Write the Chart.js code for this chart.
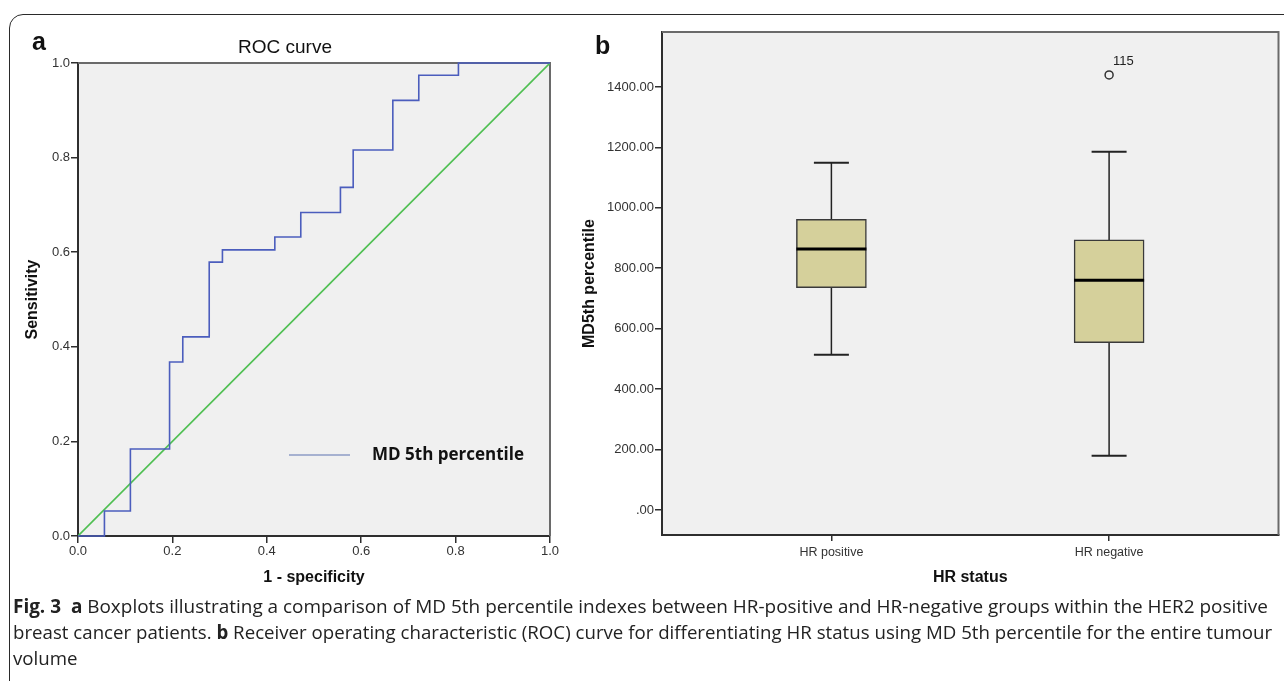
<!DOCTYPE html>
<html>
<head>
<meta charset="utf-8">
<script src="https://cdn.jsdelivr.net/npm/chart.js@4.4.1/dist/chart.umd.min.js"></script>
<style>
  html, body { margin: 0; padding: 0; background: #fff; }
  body { width: 1284px; height: 681px; position: relative; overflow: hidden; font-family: "Liberation Sans", Arial, sans-serif; }
  #frame { position: absolute; left: 9px; top: 14px; width: 1320px; height: 720px; border: 1.5px solid #2a2a2a; border-top-left-radius: 14px; }
  canvas { position: absolute; top: 0; }
  #rocChart { left: 0; }
  #boxChart { left: 570px; }
  .panel { position: absolute; font-weight: bold; font-size: 25px; color: #111; line-height: 1; }
  #caption { position: absolute; left: 13px; top: 593px; font-family: "Open Sans", "Noto Sans", sans-serif; font-size: 19px; color: #222; }
  .cap { width: max-content; white-space: nowrap; line-height: 26px; transform-origin: left center; }
</style>
</head>
<body>
<div id="frame"></div>
<canvas id="rocChart" width="570" height="600"></canvas>
<canvas id="boxChart" width="714" height="600"></canvas>
<div class="panel" style="left:32px; top:29px;">a</div>
<div class="panel" style="left:595px; top:33px;">b</div>
<div id="caption">
  <div class="cap" data-w="1255"><b>Fig. 3</b>&nbsp; <b>a</b> Boxplots illustrating a comparison of MD 5th percentile indexes between HR-positive and HR-negative groups within the HER2 positive</div>
  <div class="cap" data-w="1259">breast cancer patients. <b>b</b> Receiver operating characteristic (ROC) curve for differentiating HR status using MD 5th percentile for the entire tumour</div>
  <div class="cap">volume</div>
</div>
<script>
// ROC curve (panel a), corners of the step curve
const fpr = [0, 0.056, 0.111, 0.194, 0.222, 0.278, 0.306, 0.417, 0.472, 0.556, 0.583, 0.667, 0.722, 0.806, 1.0];
const tpr = [0, 0.053, 0.184, 0.368, 0.421, 0.579, 0.605, 0.632, 0.684, 0.737, 0.816, 0.921, 0.974, 1.0, 1.0];
const refLine = [0, 1];
const rocTicks = [0, 0.2, 0.4, 0.6, 0.8, 1.0];

// Boxplot (panel b)
const groups = ['HR positive', 'HR negative'];
const whiskerLow = [514, 179];
const q1 = [736, 554];
const median = [864, 760];
const q3 = [962, 894];
const whiskerHigh = [1149, 1186];
const outlierValues = [null, 1440];
const outlierIds = [null, '115'];
const mdTicks = [0, 200, 400, 600, 800, 1000, 1200, 1400];

const PLOT_BG = '#f0f0f0';
const AXIS = '#2e2e2e';
const TICK_FONT = { family: 'Liberation Sans', size: 13 };

const plotBg = {
  id: 'plotBg',
  beforeDraw(chart) {
    const { ctx, chartArea: a } = chart;
    ctx.save();
    ctx.fillStyle = PLOT_BG;
    ctx.fillRect(a.left, a.top, a.right - a.left, a.bottom - a.top);
    ctx.restore();
  },
  beforeDatasetsDraw(chart) {
    const { ctx, chartArea: a } = chart;
    ctx.save();
    ctx.strokeStyle = '#6a6a6a';
    ctx.lineWidth = 2;
    ctx.beginPath();
    ctx.moveTo(a.left, a.top);
    ctx.lineTo(a.right, a.top);
    ctx.lineTo(a.right, a.bottom);
    ctx.stroke();
    ctx.restore();
  }
};

// legend sits inside the plot area in the original
const rocLegend = {
  id: 'rocLegend',
  afterDraw(chart) {
    const { ctx, chartArea: a } = chart;
    const y = a.top + 392;
    ctx.save();
    ctx.strokeStyle = '#8e9dc6';
    ctx.lineWidth = 1.5;
    ctx.beginPath();
    ctx.moveTo(a.left + 211, y);
    ctx.lineTo(a.left + 272, y);
    ctx.stroke();
    ctx.fillStyle = '#111';
    ctx.font = 'bold 17px "Open Sans"';
    ctx.textBaseline = 'middle';
    ctx.fillText(chart.data.datasets[0].label, a.left + 294, y);
    ctx.restore();
  }
};

new Chart(document.getElementById('rocChart'), {
  type: 'scatter',
  data: {
    datasets: [{
      label: 'MD 5th percentile',
      data: fpr.map((x, i) => ({ x: x, y: tpr[i] })),
      showLine: true,
      stepped: 'before',
      borderColor: '#4b5dbd',
      borderWidth: 1.6,
      pointRadius: 0,
      clip: 2
    }, {
      label: 'Reference',
      data: refLine.map(v => ({ x: v, y: v })),
      showLine: true,
      borderColor: '#4fbf52',
      borderWidth: 1.6,
      pointRadius: 0
    }]
  },
  options: {
    responsive: false,
    animation: false,
    devicePixelRatio: 1,
    layout: { padding: { left: 20, right: 20, top: 36.6, bottom: 0 } },
    plugins: {
      legend: { display: false },
      tooltip: { enabled: false },
      title: {
        display: true,
        text: 'ROC curve',
        color: '#111',
        font: { family: 'Liberation Sans', size: 19, weight: 'normal' },
        padding: { top: 0, bottom: 3.6 }
      }
    },
    scales: {
      x: {
        type: 'linear', min: 0, max: 1,
        afterFit(scale) { scale.height = 64; },
        afterBuildTicks(scale) { scale.ticks = rocTicks.map(v => ({ value: v })); },
        ticks: { color: '#333', font: TICK_FONT, padding: 1, maxRotation: 0, callback: v => v.toFixed(1) },
        grid: { drawOnChartArea: false, drawTicks: true, tickLength: 7, color: AXIS, lineWidth: 1.5 },
        border: { color: AXIS, width: 2 },
        title: { display: true, text: '1 - specificity', color: '#111', font: { family: 'Liberation Sans', size: 16, weight: 'bold' }, padding: { top: 0, bottom: 13 } }
      },
      y: {
        type: 'linear', min: 0, max: 1,
        afterFit(scale) { scale.width = 58; },
        afterBuildTicks(scale) { scale.ticks = rocTicks.map(v => ({ value: v })); },
        ticks: { color: '#333', font: TICK_FONT, padding: 1, callback: v => v.toFixed(1) },
        grid: { drawOnChartArea: false, drawTicks: true, tickLength: 7, color: AXIS, lineWidth: 1.5 },
        border: { color: AXIS, width: 2 },
        title: { display: true, text: 'Sensitivity', color: '#111', font: { family: 'Liberation Sans', size: 16, weight: 'bold' }, padding: { top: 3, bottom: 0 } }
      }
    }
  },
  plugins: [plotBg, rocLegend]
});

// whiskers, caps, medians and the outlier case number
const boxParts = {
  id: 'boxParts',
  beforeDatasetsDraw(chart) {
    const { ctx, scales: { x, y } } = chart;
    ctx.save();
    ctx.strokeStyle = '#222';
    groups.forEach((g, i) => {
      const px = x.getPixelForValue(i + 1);
      const lo = y.getPixelForValue(whiskerLow[i]);
      const hi = y.getPixelForValue(whiskerHigh[i]);
      ctx.lineWidth = 1.5;
      ctx.beginPath();
      ctx.moveTo(px, lo); ctx.lineTo(px, hi);
      ctx.stroke();
      ctx.lineWidth = 2;
      ctx.beginPath();
      ctx.moveTo(px - 17.5, lo); ctx.lineTo(px + 17.5, lo);
      ctx.moveTo(px - 17.5, hi); ctx.lineTo(px + 17.5, hi);
      ctx.stroke();
    });
    ctx.restore();
  },
  afterDatasetsDraw(chart) {
    const { ctx, scales: { x, y } } = chart;
    ctx.save();
    ctx.strokeStyle = '#000';
    ctx.lineWidth = 3;
    groups.forEach((g, i) => {
      const px = x.getPixelForValue(i + 1);
      const py = y.getPixelForValue(median[i]);
      ctx.beginPath();
      ctx.moveTo(px - 35, py); ctx.lineTo(px + 35, py);
      ctx.stroke();
      if (outlierValues[i] != null) {
        ctx.fillStyle = '#222';
        ctx.font = '13px "Liberation Sans"';
        ctx.textBaseline = 'middle';
        ctx.fillText(outlierIds[i], px + 4, y.getPixelForValue(outlierValues[i]) - 13);
      }
    });
    ctx.restore();
  }
};

new Chart(document.getElementById('boxChart'), {
  type: 'bar',
  data: {
    datasets: [{
      label: 'MD5th percentile',
      data: groups.map((g, i) => ({ x: i + 1, y: [q1[i], q3[i]] })),
      backgroundColor: '#d5d09b',
      borderColor: '#3a3a3a',
      borderWidth: 1.5,
      borderSkipped: false,
      barThickness: 70,
      grouped: false
    }, {
      type: 'scatter',
      label: 'Outliers',
      data: groups.map((g, i) => ({ x: i + 1, y: outlierValues[i] })).filter(p => p.y != null),
      pointRadius: 4,
      borderWidth: 1.5,
      borderColor: '#333',
      backgroundColor: PLOT_BG
    }]
  },
  options: {
    responsive: false,
    animation: false,
    devicePixelRatio: 1,
    layout: { padding: { left: 0, right: 5, top: 32, bottom: 0 } },
    plugins: { legend: { display: false }, tooltip: { enabled: false } },
    scales: {
      x: {
        type: 'linear', min: 0.39, max: 2.61,
        offset: false,
        afterFit(scale) { scale.height = 65; },
        afterBuildTicks(scale) { scale.ticks = groups.map((g, i) => ({ value: i + 1 })); },
        ticks: { color: '#333', font: { family: 'Liberation Sans', size: 12.5 }, padding: 4, maxRotation: 0, callback: v => groups[v - 1] },
        grid: { offset: false, drawOnChartArea: false, drawTicks: true, tickLength: 6, color: AXIS, lineWidth: 1.5 },
        border: { color: AXIS, width: 2 },
        title: { display: true, text: 'HR status', color: '#111', font: { family: 'Liberation Sans', size: 16, weight: 'bold' }, padding: { top: 0, bottom: 13 } }
      },
      y: {
        type: 'linear', min: -83, max: 1582,
        afterFit(scale) { scale.width = 92; },
        afterBuildTicks(scale) { scale.ticks = mdTicks.map(v => ({ value: v })); },
        ticks: { color: '#333', font: TICK_FONT, padding: 1, callback: v => v === 0 ? '.00' : v.toFixed(2) },
        grid: { drawOnChartArea: false, drawTicks: true, tickLength: 7, color: AXIS, lineWidth: 1.5 },
        border: { color: AXIS, width: 2 },
        title: { display: true, text: 'MD5th percentile', color: '#111', font: { family: 'Liberation Sans', size: 16, weight: 'bold' }, padding: { top: 10, bottom: 0 } }
      }
    }
  },
  plugins: [plotBg, boxParts]
});

// the caption in the original is set in a narrow face; squeeze each line to its width
const caps = document.querySelectorAll('.cap');
let lastScale = 1;
caps.forEach(el => {
  if (el.dataset.w) lastScale = +el.dataset.w / el.scrollWidth;
  el.style.transform = 'scaleX(' + lastScale + ')';
});
</script>
</body>
</html>
